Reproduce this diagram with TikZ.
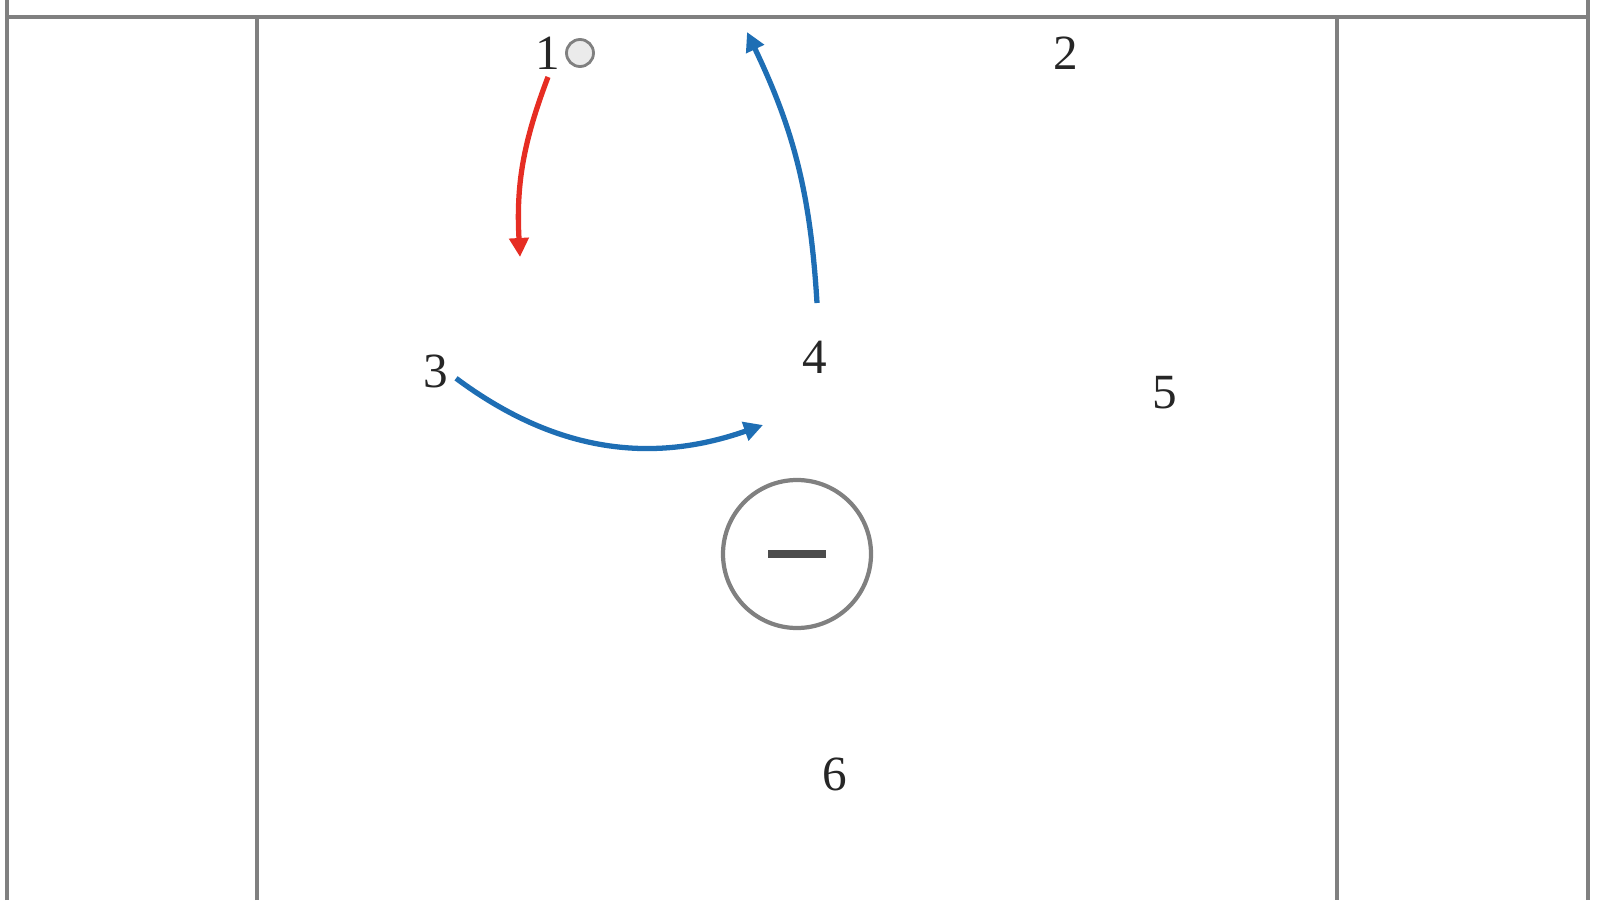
\documentclass[tikz,border=0pt]{standalone}
\usepackage{fontspec}
\setmainfont{Liberation Serif}
\usetikzlibrary{arrows.meta}
\definecolor{trait}{RGB}{128,128,128}
\definecolor{passe}{RGB}{230,45,35}
\definecolor{coupe}{RGB}{30,110,180}
\begin{document}
\begin{tikzpicture}
\tikzset{joueur/.style={inner sep=2pt, font=\fontsize{14}{16}\selectfont, text=black!85}}
\tikzset{fleche/.style={line width=1.5pt, -{Triangle[length=0.19cm,width=0.19cm]}}}
\useasboundingbox (0, 0) rectangle (16, 9);
% terrain
\draw[trait, line width=1.2pt] (0.07, 0) -- (0.07, 9);
\draw[trait, line width=1.2pt] (15.88, 0) -- (15.88, 9);
\draw[trait, line width=1.2pt] (0.07, 8.83) -- (15.88, 8.83);
\draw[trait, line width=1.2pt] (2.57, 0) -- (2.57, 8.83) -- (13.37, 8.83) -- (13.37, 0);
\node[draw=trait, line width=1.2pt, circle, minimum size=1.48cm] (panier) at (7.97, 3.46) {};
\draw[black!70, line width=2pt] ([xshift=-0.29cm]panier.center) -- ([xshift=0.29cm]panier.center);
% joueurs
\node[joueur] (P1) at (5.48, 8.47) {1};
\node[joueur] (P2) at (10.66, 8.47) {2};
\node[joueur] (P3) at (4.36, 5.29) {3};
\node[joueur] (P4) at (8.15, 5.43) {4};
\node[joueur] (P5) at (11.65, 5.07) {5};
\node[joueur] (P6) at (8.35, 1.26) {6};
\node[draw=trait, fill=black!8, line width=0.8pt, circle, minimum size=0.27cm, inner sep=0pt] (ballon) at (5.80, 8.47) {};
% deplacements
\coordinate (A4) at (8.17, 5.97);
\coordinate (F1) at (5.20, 6.43);
\coordinate (F4) at (7.47, 8.68);
\coordinate (F3) at (7.63, 4.75);
\draw[fleche, passe] (P1.south) to[bend right=12] (F1);
\draw[fleche, coupe] (A4) to[bend right=11] (F4);
\draw[fleche, coupe] (P3.-20) to[bend right=28] (F3);
\end{tikzpicture}
\end{document}
